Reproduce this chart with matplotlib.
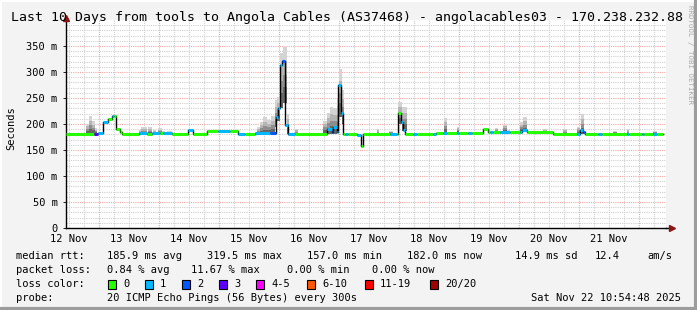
import matplotlib
matplotlib.use("Agg")
import matplotlib.pyplot as plt
from matplotlib.patches import Rectangle
from matplotlib.lines import Line2D

# time axis: hours since Wed Nov 12 10:54:48 (graph start), 10 days shown
day_labels = ["12 Nov", "13 Nov", "14 Nov", "15 Nov", "16 Nov",
              "17 Nov", "18 Nov", "19 Nov", "20 Nov", "21 Nov"]
first_noon = 1.09          # Nov 12 12:00 relative to start
span_hours = 240

# median rtt (ms) as steps: start hour, value, lost pings of 20
med_t = [0, 11.2, 12.8, 14.8, 16.8, 18.4, 19.2, 20.0, 21.6, 22.4,
         29.2, 32.4, 34.4, 37.6, 38.8, 42.4, 48.8, 50.8, 56.4, 60.8,
         65.6, 68.8, 71.6, 75.6, 81.6, 84.0, 84.8, 85.6, 86.4, 87.6,
         88.8, 91.6, 104.4, 106.4, 106.8, 108.4, 108.8, 110.0, 110.8, 111.6,
         112.8, 116.4, 118.0, 118.8, 129.6, 132.4, 132.8, 134.0, 134.8, 135.6,
         138.8, 140.4, 146.8, 148.0, 150.8, 152.4, 156.4, 157.2, 160.8, 162.4,
         166.8, 168.8, 169.6, 170.8, 173.6, 177.6, 181.6, 182.4, 184.4, 194.8,
         204.4, 205.6, 206.8, 207.6, 212.8, 214.4, 224.4, 225.2, 230.4, 231.2,
         234.8, 236.4]
med_end = 238.8
med_ms = [181, 181, 183, 204, 209, 216, 216, 190, 185, 181,
          182, 181, 182, 182, 182, 181, 188, 181, 186, 186,
          186, 181, 181, 182, 182, 213, 230, 313, 321, 198,
          181, 181, 190, 185, 194, 185, 275, 221, 181, 181,
          181, 178, 157, 181, 181, 181, 221, 204, 188, 181,
          181, 181, 181, 183, 183, 183, 183, 183, 183, 183,
          190, 184, 184, 184, 184, 184, 184, 188, 184, 181,
          181, 188, 184, 181, 181, 181, 181, 181, 181, 181,
          181, 181]
med_loss = [0, 3, 1, 1, 0, 1, 0, 0, 0, 0,
            1, 0, 1, 0, 1, 0, 1, 0, 0, 1,
            0, 1, 0, 1, 2, 1, 1, 1, 2, 1,
            1, 0, 1, 2, 1, 1, 1, 1, 0, 1,
            0, 1, 0, 0, 1, 0, 0, 1, 1, 0,
            1, 0, 1, 0, 1, 0, 1, 0, 1, 0,
            0, 0, 1, 0, 1, 0, 1, 1, 0, 0,
            1, 1, 2, 0, 1, 0, 1, 0, 1, 0,
            1, 0]

# smoke (spread of the 20 pings): start, end, low ms, high ms
smoke_t0 = [8.0, 9.2, 10.4, 11.6, 29.2, 30.0, 32.8, 34.8, 36.8, 38.4,
            40.4, 76.4, 77.6, 78.8, 80.4, 82.0, 83.6, 84.4, 85.6, 86.8,
            88.4, 91.6, 102.8, 104.4, 105.6, 106.8, 108.4, 109.2, 110.4, 124.4,
            129.2, 132.8, 134.4, 151.2, 156.4, 171.6, 174.8, 176.4, 181.6, 182.8,
            190.8, 198.8, 204.4, 206.0, 218.8, 224.4, 234.8]
smoke_t1 = [9.2, 10.4, 11.6, 12.4, 30.0, 32.4, 34.4, 36.0, 38.4, 39.6,
            42.4, 77.6, 78.8, 80.4, 82.0, 83.6, 84.4, 85.6, 86.8, 88.4,
            89.2, 92.8, 104.4, 105.6, 106.8, 108.4, 109.2, 110.4, 111.2, 125.2,
            130.8, 134.4, 136.4, 152.4, 157.2, 172.8, 176.4, 177.6, 182.8, 184.4,
            192.4, 200.4, 205.6, 207.2, 220.4, 225.2, 236.4]
smoke_lo = [181, 181, 181, 181, 180, 180, 180, 180, 180, 180,
            180, 180, 180, 180, 180, 180, 195, 205, 230, 240,
            181, 181, 181, 181, 181, 181, 185, 214, 200, 181,
            181, 200, 186, 183, 183, 184, 184, 184, 184, 184,
            184, 181, 181, 181, 181, 181, 181]
smoke_hi = [200, 215, 205, 192, 188, 195, 195, 188, 192, 186,
            186, 195, 204, 213, 207, 215, 246, 252, 336, 348,
            220, 190, 206, 221, 232, 230, 250, 305, 265, 190,
            187, 243, 233, 211, 195, 193, 199, 188, 204, 214,
            190, 190, 195, 220, 187, 190, 187]

loss_names = ["0", "1", "2", "3", "4-5", "6-10", "11-19", "20/20"]
loss_colors = ["#26ff00", "#00b8ff", "#0059ff", "#5e00ff",
               "#ff00ff", "#ff5500", "#ff0000", "#a10000"]

stats_rtt = ["185.9 ms avg", "319.5 ms max", "157.0 ms min", "182.0 ms now", "14.9 ms sd", "12.4", "am/s"]
stats_loss = ["0.84 % avg", "11.67 % max", "0.00 % min", "0.00 % now"]


def loss_class(n):
    if n <= 3:
        return n
    if n <= 5:
        return 4
    if n <= 10:
        return 5
    if n <= 19:
        return 6
    return 7


plt.rcParams["font.family"] = ["DejaVu Sans Mono"]
W, H = 697, 310
fig = plt.figure(figsize=(W / 100, H / 100), dpi=100, facecolor="#f3f3f3")

# frame around the canvas
fig.add_artist(Line2D([0, 1], [1 - 0.5 / H, 1 - 0.5 / H], color="#ffffff", lw=1.5, transform=fig.transFigure))
fig.add_artist(Line2D([0.5 / W, 0.5 / W], [0, 1], color="#ffffff", lw=1.5, transform=fig.transFigure))
fig.add_artist(Line2D([0, 1], [1.5 / H, 1.5 / H], color="#9c9c9c", lw=3, transform=fig.transFigure))
fig.add_artist(Line2D([1 - 1.5 / W, 1 - 1.5 / W], [0, 1], color="#9c9c9c", lw=3, transform=fig.transFigure))

x0, x1, ybot, ytop = 66, 666, 228, 20
ax = fig.add_axes([x0 / W, (H - ybot) / H, (x1 - x0) / W, (ybot - ytop) / H])
ax.set_facecolor("white")
ax.set_xlim(0, span_hours)
ax.set_ylim(0, 400)

# grid
for v in range(10, 400, 10):
    major = v % 50 == 0
    ax.axhline(v, color="#f2a8a8" if major else "#cfcfcf", lw=0.8,
               ls=(0, (1, 1)), zorder=0)
k = 0
t = first_noon
while t < span_hours:
    major = k % 4 == 2
    ax.axvline(t, color="#f2a8a8" if major else "#cfcfcf", lw=0.8,
               ls=(0, (1, 1)), zorder=0)
    k += 1
    t = first_noon + 6 * k

# smoke, darker near the bottom of each ping spread
for a, b, lo, hi in zip(smoke_t0, smoke_t1, smoke_lo, smoke_hi):
    span = hi - lo
    for frac, col in [(1.0, "#d4d4d4"), (0.75, "#b4b4b4"), (0.5, "#8e8e8e"), (0.28, "#666666")]:
        ax.fill_between([a, b], lo, lo + span * frac, color=col, lw=0, zorder=1)

# median: black step line, then coloured loss segments
ends = med_t[1:] + [med_end]
ax.step(med_t + [med_end], med_ms + [med_ms[-1]], where="post", color="black", lw=1, zorder=2)
for a, b, v, n in zip(med_t, ends, med_ms, med_loss):
    ax.hlines(v, a, b, color=loss_colors[loss_class(n)], lw=2.2, zorder=3)

# axes
for s in ["top", "right"]:
    ax.spines[s].set_visible(False)
ax.spines["left"].set_linewidth(1)
ax.spines["bottom"].set_linewidth(1)
ax.plot([span_hours, span_hours + 2], [0, 0], color="black", lw=1, clip_on=False)
ax.plot(span_hours + 2.2, 0, marker=">", color="#8b1414", ms=5, clip_on=False, zorder=5)
ax.plot([0, 0], [400, 404], color="black", lw=1, clip_on=False)
ax.plot(0, 403, marker="^", color="#8b1414", ms=5, clip_on=False, zorder=5)

ax.set_yticks(range(0, 400, 50))
ax.set_yticklabels(["0"] + [f"{v} m" for v in range(50, 400, 50)])
ax.set_xticks([first_noon + 24 * i for i in range(len(day_labels))])
ax.set_xticklabels(day_labels)
ax.tick_params(axis="y", length=2, width=0.6, pad=4, labelsize=7.5, colors="black")
ax.tick_params(axis="x", length=0, pad=4, labelsize=7.5)

fig.text(347 / W, 1 - 17 / H, "Last 10 Days from tools to Angola Cables (AS37468) - angolacables03 - 170.238.232.88",
         ha="center", va="center", fontsize=9.5)
fig.text(11 / W, 1 - 128 / H, "Seconds", rotation=90, ha="center", va="center", fontsize=7.5)
fig.text(690 / W, 1 - 5 / H, "RRDTOOL / TOBI OETIKER", rotation=-90, ha="center", va="top",
         fontsize=5.3, color="#a8a8a8")

# legend block
fs = 7.5
row_y = [256, 270, 284, 298]
fig.text(16 / W, 1 - row_y[0] / H, "median rtt:", va="center", fontsize=fs)
for x, s in zip([107, 207, 307, 407, 515, 595, 647], stats_rtt):
    fig.text(x / W, 1 - row_y[0] / H, s, va="center", fontsize=fs)
fig.text(16 / W, 1 - row_y[1] / H, "packet loss:", va="center", fontsize=fs)
for x, s in zip([107, 191, 287, 372], stats_loss):
    fig.text(x / W, 1 - row_y[1] / H, s, va="center", fontsize=fs)
fig.text(16 / W, 1 - row_y[2] / H, "loss color:", va="center", fontsize=fs)
box_x = [108, 145, 182, 219, 256, 307, 365, 430]
for bx, name, col in zip(box_x, loss_names, loss_colors):
    fig.add_artist(Rectangle((bx / W, 1 - (row_y[2] + 4.5) / H), 8 / W, 9 / H, facecolor=col,
                             edgecolor="black", lw=0.8, transform=fig.transFigure))
    fig.text((bx + 15) / W, 1 - row_y[2] / H, name, va="center", fontsize=fs)
fig.text(16 / W, 1 - row_y[3] / H, "probe:", va="center", fontsize=fs)
fig.text(107 / W, 1 - row_y[3] / H, "20 ICMP Echo Pings (56 Bytes) every 300s", va="center", fontsize=fs)
fig.text(681 / W, 1 - row_y[3] / H, "Sat Nov 22 10:54:48 2025", ha="right", va="center", fontsize=fs)

fig.savefig("out.png", dpi=100, facecolor=fig.get_facecolor())
